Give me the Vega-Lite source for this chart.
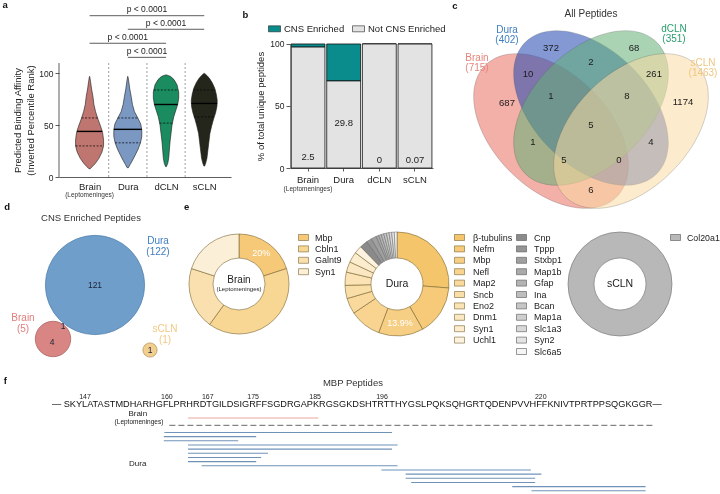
{
"$schema":"https://vega.github.io/schema/vega-lite/v6.json",
"background":"white",
"padding":0,
"spacing":-34,
"resolve":{"scale":{"color":"independent","fill":"independent","stroke":"independent","shape":"independent","size":"independent","theta":"independent"},"legend":{"color":"independent","fill":"independent"}},
"config":{
 "view":{"stroke":null},
 "font":"Liberation Sans",
 "axis":{"grid":false,"domainColor":"#333","tickColor":"#333","domainWidth":0.8,"tickWidth":0.8,"labelColor":"#222","titleColor":"#222","labelFontSize":9,"titleFontSize":9.5,"titleFontWeight":"normal","labelFont":"Liberation Sans","titleFont":"Liberation Sans"},
 "legend":{"padding":0,"labelFont":"Liberation Sans","labelColor":"#222","labelFontSize":9,"rowPadding":0.4},
 "text":{"font":"Liberation Sans","color":"#222"}
},
"datasets":{
 "brackets":[{"from":1,"to":4,"lvl":155.7,"mid":2.5,"label":"p < 0.0001"},{"from":2,"to":4,"lvl":142.6,"mid":3,"label":"p < 0.0001"},{"from":1,"to":3,"lvl":129.1,"mid":2,"label":"p < 0.0001"},{"from":2,"to":3,"lvl":115.5,"mid":2.5,"label":"p < 0.0001"}],
 "seps":[{"x":1.5},{"x":2.5},{"x":3.5}],
 "violin":[
  {"g":"Brain","v":97,"lo":0.996,"hi":1.004},{"g":"Brain","v":92,"lo":0.974,"hi":1.026},{"g":"Brain","v":85,"lo":0.948,"hi":1.052},{"g":"Brain","v":78,"lo":0.913,"hi":1.087},{"g":"Brain","v":70,"lo":0.887,"hi":1.113},{"g":"Brain","v":63,"lo":0.843,"hi":1.157},{"g":"Brain","v":56,"lo":0.782,"hi":1.218},{"g":"Brain","v":49,"lo":0.712,"hi":1.288},{"g":"Brain","v":43,"lo":0.660,"hi":1.340},{"g":"Brain","v":36,"lo":0.634,"hi":1.366},{"g":"Brain","v":30,"lo":0.634,"hi":1.366},{"g":"Brain","v":24,"lo":0.677,"hi":1.323},{"g":"Brain","v":18,"lo":0.756,"hi":1.244},{"g":"Brain","v":13,"lo":0.852,"hi":1.148},{"g":"Brain","v":10,"lo":0.930,"hi":1.070},{"g":"Brain","v":8,"lo":0.983,"hi":1.017},
  {"g":"Dura","v":97,"lo":1.996,"hi":2.004},{"g":"Dura","v":92,"lo":1.974,"hi":2.026},{"g":"Dura","v":85,"lo":1.948,"hi":2.052},{"g":"Dura","v":78,"lo":1.913,"hi":2.087},{"g":"Dura","v":70,"lo":1.878,"hi":2.122},{"g":"Dura","v":63,"lo":1.825,"hi":2.175},{"g":"Dura","v":57,"lo":1.738,"hi":2.262},{"g":"Dura","v":51,"lo":1.660,"hi":2.340},{"g":"Dura","v":45,"lo":1.634,"hi":2.366},{"g":"Dura","v":39,"lo":1.634,"hi":2.366},{"g":"Dura","v":33,"lo":1.668,"hi":2.332},{"g":"Dura","v":27,"lo":1.729,"hi":2.271},{"g":"Dura","v":21,"lo":1.808,"hi":2.192},{"g":"Dura","v":16,"lo":1.878,"hi":2.122},{"g":"Dura","v":12,"lo":1.939,"hi":2.061},{"g":"Dura","v":9,"lo":1.983,"hi":2.017},
  {"g":"dCLN","v":98.5,"lo":2.983,"hi":3.017},{"g":"dCLN","v":97,"lo":2.878,"hi":3.122},{"g":"dCLN","v":94,"lo":2.791,"hi":3.209},{"g":"dCLN","v":89,"lo":2.712,"hi":3.288},{"g":"dCLN","v":82,"lo":2.668,"hi":3.332},{"g":"dCLN","v":76,"lo":2.668,"hi":3.332},{"g":"dCLN","v":70,"lo":2.695,"hi":3.305},{"g":"dCLN","v":64,"lo":2.747,"hi":3.253},{"g":"dCLN","v":58,"lo":2.799,"hi":3.201},{"g":"dCLN","v":50,"lo":2.843,"hi":3.157},{"g":"dCLN","v":42,"lo":2.869,"hi":3.131},{"g":"dCLN","v":34,"lo":2.895,"hi":3.105},{"g":"dCLN","v":26,"lo":2.913,"hi":3.087},{"g":"dCLN","v":18,"lo":2.930,"hi":3.070},{"g":"dCLN","v":13,"lo":2.956,"hi":3.044},{"g":"dCLN","v":10,"lo":2.991,"hi":3.009},
  {"g":"sCLN","v":100,"lo":3.991,"hi":4.009},{"g":"sCLN","v":98,"lo":3.930,"hi":4.070},{"g":"sCLN","v":95,"lo":3.860,"hi":4.140},{"g":"sCLN","v":91,"lo":3.791,"hi":4.209},{"g":"sCLN","v":86,"lo":3.729,"hi":4.271},{"g":"sCLN","v":80,"lo":3.686,"hi":4.314},{"g":"sCLN","v":74,"lo":3.660,"hi":4.340},{"g":"sCLN","v":68,"lo":3.668,"hi":4.332},{"g":"sCLN","v":62,"lo":3.703,"hi":4.297},{"g":"sCLN","v":56,"lo":3.756,"hi":4.244},{"g":"sCLN","v":49,"lo":3.808,"hi":4.192},{"g":"sCLN","v":42,"lo":3.852,"hi":4.148},{"g":"sCLN","v":34,"lo":3.878,"hi":4.122},{"g":"sCLN","v":26,"lo":3.904,"hi":4.096},{"g":"sCLN","v":18,"lo":3.930,"hi":4.070},{"g":"sCLN","v":13,"lo":3.965,"hi":4.035},{"g":"sCLN","v":10.5,"lo":3.991,"hi":4.009}
 ],
 "vstats":[
  {"g":"Brain","stat":"median","v":44,"lo":0.67,"hi":1.33},{"g":"Brain","stat":"q1","v":30,"lo":0.634,"hi":1.366},{"g":"Brain","stat":"q3","v":57,"lo":0.79,"hi":1.21},
  {"g":"Dura","stat":"median","v":46,"lo":1.634,"hi":2.366},{"g":"Dura","stat":"q1","v":33,"lo":1.668,"hi":2.332},{"g":"Dura","stat":"q3","v":57,"lo":1.738,"hi":2.262},
  {"g":"dCLN","stat":"median","v":70,"lo":2.695,"hi":3.305},{"g":"dCLN","stat":"q1","v":52,"lo":2.835,"hi":3.165},{"g":"dCLN","stat":"q3","v":84,"lo":2.68,"hi":3.32},
  {"g":"sCLN","stat":"median","v":71,"lo":3.662,"hi":4.338},{"g":"sCLN","stat":"q1","v":58,"lo":3.73,"hi":4.27},{"g":"sCLN","stat":"q3","v":84,"lo":3.71,"hi":4.29}
 ],
 "bars":[
  {"g":"Brain","cat":"CNS Enriched","pct":2.5,"lab":"2.5"},{"g":"Brain","cat":"Not CNS Enriched","pct":97.5,"lab":""},
  {"g":"Dura","cat":"CNS Enriched","pct":29.8,"lab":"29.8"},{"g":"Dura","cat":"Not CNS Enriched","pct":70.2,"lab":""},
  {"g":"dCLN","cat":"CNS Enriched","pct":0,"lab":"0"},{"g":"dCLN","cat":"Not CNS Enriched","pct":100,"lab":""},
  {"g":"sCLN","cat":"CNS Enriched","pct":0.07,"lab":"0.07"},{"g":"sCLN","cat":"Not CNS Enriched","pct":99.93,"lab":""}
 ],
 "vennE":[{"set":"Brain","x":-40,"y":-23},{"set":"Dura","x":0,"y":0},{"set":"dCLN","x":0,"y":0},{"set":"sCLN","x":40,"y":-23}],
 "vcounts":[{"x":-40,"y":60,"n":"372"},{"x":43,"y":60,"n":"68"},{"x":0,"y":46,"n":"2"},{"x":-63,"y":34,"n":"10"},{"x":63,"y":34,"n":"261"},{"x":-84,"y":5,"n":"687"},{"x":-40,"y":12,"n":"1"},{"x":36,"y":12,"n":"8"},{"x":92,"y":6,"n":"1174"},{"x":0,"y":-17,"n":"5"},{"x":-58,"y":-34,"n":"1"},{"x":60,"y":-34,"n":"4"},{"x":-27,"y":-52,"n":"5"},{"x":28,"y":-52,"n":"0"},{"x":0,"y":-82,"n":"6"}],
 "vsets":[{"set":"Dura","x":-84,"y":83,"t":"Dura\n(402)"},{"set":"dCLN","x":83,"y":84,"t":"dCLN\n(351)"},{"set":"Brain","x":-114,"y":55,"t":"Brain\n(715)"},{"set":"sCLN","x":112,"y":50,"t":"sCLN\n(1463)"}],
 "cns":[{"set":"Dura","x":0,"y":0,"n":122},{"set":"Brain","x":-42,"y":-54,"n":5},{"set":"sCLN","x":55,"y":-65,"n":1}],
 "cnscounts":[{"x":0,"y":0,"lab":"121"},{"x":-32,"y":-41,"lab":"1"},{"x":-43,"y":-57,"lab":"4"},{"x":55,"y":-65,"lab":"1"}],
 "cnssets":[{"set":"Dura","x":63,"y":49,"t":"Dura\n(122)"},{"set":"Brain","x":-72,"y":-28,"t":"Brain\n(5)"},{"set":"sCLN","x":70,"y":-39,"t":"sCLN\n(1)"}],
 "donutBrain":[{"p":"Mbp","n":1,"rank":1,"lab":"20%"},{"p":"Cbln1","n":2,"rank":2,"lab":""},{"p":"Galnt9","n":1,"rank":3,"lab":""},{"p":"Syn1","n":1,"rank":4,"lab":""}],
 "donutDura":[
  {"p":"β-tubulins","n":32,"rank":1,"cls":"A","lab":""},{"p":"Nefm","n":19,"rank":2,"cls":"A","lab":""},{"p":"Mbp","n":17,"rank":3,"cls":"A","lab":"13.9%"},{"p":"Nefl","n":12,"rank":4,"cls":"A","lab":""},{"p":"Map2","n":6,"rank":5,"cls":"A","lab":""},{"p":"Sncb","n":5,"rank":6,"cls":"A","lab":""},{"p":"Eno2","n":5,"rank":7,"cls":"A","lab":""},{"p":"Dnm1","n":4,"rank":8,"cls":"A","lab":""},{"p":"Syn1","n":4,"rank":9,"cls":"A","lab":""},{"p":"Uchl1","n":3,"rank":10,"cls":"A","lab":""},
  {"p":"Cnp","n":3,"rank":11,"cls":"B","lab":""},{"p":"Tppp","n":2,"rank":12,"cls":"B","lab":""},{"p":"Stxbp1","n":2,"rank":13,"cls":"B","lab":""},{"p":"Map1b","n":1,"rank":14,"cls":"B","lab":""},{"p":"Gfap","n":1,"rank":15,"cls":"B","lab":""},{"p":"Ina","n":1,"rank":16,"cls":"B","lab":""},{"p":"Bcan","n":1,"rank":17,"cls":"B","lab":""},{"p":"Map1a","n":1,"rank":18,"cls":"B","lab":""},{"p":"Slc1a3","n":1,"rank":19,"cls":"B","lab":""},{"p":"Syn2","n":1,"rank":20,"cls":"B","lab":""},{"p":"Slc6a5","n":1,"rank":21,"cls":"B","lab":""}
 ],
 "donutScln":[{"p":"Col20a1","n":1}],
 "peps":[
  {"src":"Brain","x":167,"x2":188,"row":-2.48},
  {"src":"Dura","x":163.2,"x2":199.9,"row":1},{"src":"Dura","x":163.1,"x2":178,"row":2},{"src":"Dura","x":163.1,"x2":175.1,"row":3},{"src":"Dura","x":167,"x2":200.8,"row":4},{"src":"Dura","x":167,"x2":199.9,"row":5},{"src":"Dura","x":167,"x2":179.9,"row":6},{"src":"Dura","x":167,"x2":178.8,"row":7},{"src":"Dura","x":167,"x2":178,"row":8},{"src":"Dura","x":169.2,"x2":200.8,"row":9},{"src":"Dura","x":198.2,"x2":222.3,"row":10},{"src":"Dura","x":202.1,"x2":224,"row":11},{"src":"Dura","x":202.1,"x2":223,"row":12},{"src":"Dura","x":203,"x2":223,"row":13},{"src":"Dura","x":219.3,"x2":240.8,"row":14},{"src":"Dura","x":222.4,"x2":240.8,"row":15},{"src":"Dura","x":223.3,"x2":240.8,"row":16}
 ],
 "fdash":[{"x":164,"x2":242.2,"row":-0.72}],
 "fseq":[{"x":145.06,"row":-5.84,"t":"— SKYLATASTMDHARHGFLPRHRDTGILDSIGRFFSGDRGAPKRGSGKDSHTRTTHYGSLPQKSQHGRTQDENPVVHFFKNIVTPRTPPSQGKGGR—"}],
 "fticks":[{"x":150.4,"row":-7.52,"t":"147"},{"x":163.6,"row":-7.52,"t":"160"},{"x":170.2,"row":-7.52,"t":"167"},{"x":177.5,"row":-7.52,"t":"175"},{"x":187.5,"row":-7.52,"t":"185"},{"x":198.3,"row":-7.52,"t":"196"},{"x":223.9,"row":-7.52,"t":"220"}],
 "flabels":[{"x":158.9,"row":-3.53,"t":"Brain"},{"x":158.9,"row":8.5,"t":"Dura"}],
 "flep":[{"x":159.1,"row":-1.52,"t":"(Leptomeninges)"}],
 "ftitle":[{"x":193.6,"row":-10.88,"t":"MBP Peptides"}]
},
"vconcat":[
 {"bounds":"flush","spacing":0,
  "resolve":{"scale":{"color":"independent","fill":"independent","stroke":"independent","shape":"independent","size":"independent","theta":"independent"},"legend":{"color":"independent","fill":"independent"}},
  "hconcat":[
  {"width":53,"height":1,"data":{"values":[{}]},"mark":{"type":"point","opacity":0},"encoding":{}},
  {"width":172,"height":167,
   "layer":[
    {"data":{"name":"violin"},"mark":{"type":"area","orient":"horizontal","stroke":"#1a1a1a","strokeWidth":0.6},
     "encoding":{
      "y":{"field":"v","type":"quantitative","scale":{"domain":[0,161.2],"nice":false,"zero":false},"axis":{"values":[0,50,100],"domain":false,"title":["Predicted Binding Affinity","(Inverted Percentile Rank)"],"titleY":110,"tickSize":4,"labelFontSize":8.5,"titlePadding":3,"titleFontSize":9.5,"titleLineHeight":13}},
      "x":{"field":"lo","type":"quantitative","scale":{"domain":[0.2,4.7],"nice":false,"zero":false},"axis":{"values":[1,2,3,4],"labelExpr":"['','Brain','Dura','dCLN','sCLN'][datum.value]","ticks":false,"title":null,"labelFontSize":9.5,"labelPadding":4}},
      "x2":{"field":"hi"},
      "fill":{"field":"g","type":"nominal","scale":{"domain":["Brain","Dura","dCLN","sCLN"],"range":["#bf7670","#7b98c2","#1b8c60","#25261b"]},"legend":null}}},
    {"data":{"values":[{"x":-1.318,"x2":-1.3,"y":170.85}]},"mark":{"type":"rule","opacity":0,"strokeWidth":0.01},"encoding":{"x":{"field":"x","type":"quantitative"},"x2":{"field":"x2"},"y":{"field":"y","type":"quantitative"}}},
    {"data":{"values":[{"x":0.2,"y0":0,"y1":110}]},"mark":{"type":"rule","color":"#333","strokeWidth":0.8},"encoding":{"x":{"field":"x","type":"quantitative"},"y":{"field":"y0","type":"quantitative"},"y2":{"field":"y1"}}},
    {"data":{"name":"seps"},"mark":{"type":"rule","color":"#888","strokeWidth":0.8,"strokeDash":[2,2]},"encoding":{"x":{"field":"x","type":"quantitative"},"y":{"datum":0,"type":"quantitative"},"y2":{"datum":110}}},
    {"data":{"name":"vstats"},"transform":[{"filter":"datum.stat == 'median'"}],"mark":{"type":"rule","color":"#000","strokeWidth":1.4},"encoding":{"x":{"field":"lo","type":"quantitative"},"x2":{"field":"hi"},"y":{"field":"v","type":"quantitative"}}},
    {"data":{"name":"vstats"},"transform":[{"filter":"datum.stat != 'median'"}],"mark":{"type":"rule","color":"#000","strokeWidth":0.7,"strokeDash":[2,1.5]},"encoding":{"x":{"field":"lo","type":"quantitative"},"x2":{"field":"hi"},"y":{"field":"v","type":"quantitative"}}},
    {"data":{"values":[{"x":1,"v":-17.4,"t":"(Leptomeninges)"}]},"mark":{"type":"text","fontSize":6.5,"color":"#333"},"encoding":{"x":{"field":"x","type":"quantitative"},"y":{"field":"v","type":"quantitative"},"text":{"field":"t"}}},
    {"data":{"name":"brackets"},"mark":{"type":"rule","color":"#333","strokeWidth":0.8},"encoding":{"x":{"field":"from","type":"quantitative"},"x2":{"field":"to"},"y":{"field":"lvl","type":"quantitative"}}},
    {"data":{"name":"brackets"},"mark":{"type":"text","baseline":"bottom","dy":-1.5,"fontSize":8.5},"encoding":{"x":{"field":"mid","type":"quantitative"},"y":{"field":"lvl","type":"quantitative"},"text":{"field":"label"}}},
    {"data":{"values":[{"x":-1.279,"v":170.85,"t":"a"},{"x":5.004,"v":161.2,"t":"b"},{"x":10.488,"v":170.08,"t":"c"}]},"mark":{"type":"text","align":"left","baseline":"top","fontSize":9.5,"fontWeight":"bold","color":"#111"},"encoding":{"x":{"field":"x","type":"quantitative"},"y":{"field":"v","type":"quantitative"},"text":{"field":"t"}}}
   ]},
  {"width":59,"height":1,"data":{"values":[{}]},"mark":{"type":"point","opacity":0},"encoding":{}},
  {"width":143,"height":158,
   "layer":[
    {"data":{"name":"bars"},"mark":{"type":"bar","stroke":"#111","strokeWidth":0.8},
     "encoding":{
      "x":{"field":"g","type":"nominal","scale":{"domain":["Brain","Dura","dCLN","sCLN"],"paddingInner":0.05,"paddingOuter":0.03},"axis":{"title":null,"labelAngle":0,"tickSize":3,"labelPadding":3,"labelFontSize":9.5}},
      "y":{"field":"pct","type":"quantitative","stack":true,"scale":{"domain":[0,127.4],"nice":false},"axis":{"values":[0,25,50,75,100],"domain":false,"labelExpr":"datum.value % 50 == 0 ? datum.label : ''","title":"% of total unique peptides","titleY":96,"tickSize":4,"labelFontSize":8.5,"titlePadding":4,"titleFontSize":9.5}},
      "color":{"field":"cat","type":"nominal","scale":{"domain":["CNS Enriched","Not CNS Enriched"],"range":["#0b8c8c","#e3e3e3"]},"legend":{"orient":"none","legendX":-22,"legendY":12.3,"direction":"horizontal","title":null,"symbolType":"M-1,-0.5H1V0.5H-1Z","symbolSize":144,"symbolStrokeColor":"#222","symbolStrokeWidth":0.6,"labelFontSize":9.5,"labelOffset":3,"columnPadding":6}}}},
    {"data":{"values":[{"g":"Brain","y0":0,"y1":100}]},"mark":{"type":"rule","color":"#333","strokeWidth":0.8},"encoding":{"x":{"field":"g","type":"nominal","bandPosition":0},"y":{"field":"y0","type":"quantitative"},"y2":{"field":"y1"}}},
    {"data":{"name":"bars"},"transform":[{"filter":"datum.cat == 'CNS Enriched'"}],"mark":{"type":"text","baseline":"bottom","dy":-3,"fontSize":9.5},
     "encoding":{"x":{"field":"g","type":"nominal"},"y":{"field":"pct","type":"quantitative"},"text":{"field":"lab"}}},
    {"data":{"values":[{"g":"Brain","y":-16.9,"t":"(Leptomeninges)"}]},"mark":{"type":"text","fontSize":6.5,"color":"#333"},
     "encoding":{"x":{"field":"g","type":"nominal"},"y":{"field":"y","type":"quantitative"},"text":{"field":"t"}}}
   ]},
  {"width":59,"height":1,"data":{"values":[{}]},"mark":{"type":"point","opacity":0},"encoding":{}},
  {"width":220,"height":200,
   "encoding":{"x":{"field":"x","type":"quantitative","scale":{"domain":[-99,121],"nice":false,"zero":false},"axis":null},"y":{"field":"y","type":"quantitative","scale":{"domain":[-102,98],"nice":false,"zero":false},"axis":null}},
   "layer":[
    {"data":{"values":[{"x":0,"x2":1,"y":-122}]},"mark":{"type":"rule","opacity":0,"strokeWidth":0.01},"encoding":{"x2":{"field":"x2"}}},
    {"data":{"name":"vennE"},"mark":{"type":"point","filled":true,"size":34596,"opacity":1,"fillOpacity":0.55,"stroke":"#555","strokeWidth":0.5,"strokeOpacity":0.5},
     "encoding":{
      "shape":{"field":"set","type":"nominal","scale":{"domain":["Brain","Dura","dCLN","sCLN"],"range":["M0.707,0.707C0.465,0.949,-0.048,0.829,-0.438,0.438C-0.829,0.048,-0.949,-0.465,-0.707,-0.707C-0.465,-0.949,0.048,-0.829,0.438,-0.438C0.829,-0.048,0.949,0.465,0.707,0.707Z","M0.707,0.707C0.465,0.949,-0.048,0.829,-0.438,0.438C-0.829,0.048,-0.949,-0.465,-0.707,-0.707C-0.465,-0.949,0.048,-0.829,0.438,-0.438C0.829,-0.048,0.949,0.465,0.707,0.707Z","M-0.707,0.707C-0.465,0.949,0.048,0.829,0.438,0.438C0.829,0.048,0.949,-0.465,0.707,-0.707C0.465,-0.949,-0.048,-0.829,-0.438,-0.438C-0.829,-0.048,-0.949,0.465,-0.707,0.707Z","M-0.707,0.707C-0.465,0.949,0.048,0.829,0.438,0.438C0.829,0.048,0.949,-0.465,0.707,-0.707C0.465,-0.949,-0.048,-0.829,-0.438,-0.438C-0.829,-0.048,-0.949,0.465,-0.707,0.707Z"]},"legend":null},
      "fill":{"field":"set","type":"nominal","scale":{"domain":["Brain","Dura","dCLN","sCLN"],"range":["#e96f61","#1f45b0","#63af75","#fadba2"]},"legend":null}}},
    {"data":{"name":"vcounts"},"mark":{"type":"text","fontSize":9.5,"color":"#1a1a1a"},"encoding":{"text":{"field":"n"}}},
    {"data":{"name":"vsets"},"mark":{"type":"text","baseline":"top","lineBreak":"\n","lineHeight":10,"fontSize":10},"encoding":{"text":{"field":"t"},"color":{"field":"set","type":"nominal","scale":{"domain":["Brain","Dura","dCLN","sCLN"],"range":["#e8847c","#3f7fc1","#2a9d6e","#f0c680"]},"legend":null}}},
    {"data":{"values":[{"x":0,"y":94,"t":"All Peptides"}]},"mark":{"type":"text","fontSize":10,"color":"#333"},"encoding":{"text":{"field":"t"}}}
   ]}
 ]},
 {"bounds":"flush","spacing":0,
  "resolve":{"scale":{"color":"independent","fill":"independent","stroke":"independent","shape":"independent","size":"independent","theta":"independent"},"legend":{"color":"independent","fill":"independent"}},
  "hconcat":[
  {"width":175,"height":136,
   "encoding":{"x":{"field":"x","type":"quantitative","scale":{"domain":[-89,86],"nice":false,"zero":false},"axis":null},"y":{"field":"y","type":"quantitative","scale":{"domain":[-83,53],"nice":false,"zero":false},"axis":null}},
   "layer":[
    {"data":{"values":[{"x":-94,"x2":-93,"y":88},{"x":-94,"x2":-93,"y":-83}]},"mark":{"type":"rule","opacity":0,"strokeWidth":0.01},"encoding":{"x2":{"field":"x2"}}},
    {"data":{"name":"cns"},"mark":{"type":"point","shape":"circle","filled":true,"opacity":1,"blend":"multiply","strokeWidth":0.7},
     "encoding":{
      "size":{"field":"n","type":"quantitative","scale":{"type":"linear","domain":[1,5,122],"range":[201,1257,9852]},"legend":null},
      "fill":{"field":"set","type":"nominal","scale":{"domain":["Dura","Brain","sCLN"],"range":["#6f9ecb","#d98583","#f2cf8f"]},"legend":null},
      "stroke":{"field":"set","type":"nominal","scale":{"domain":["Dura","Brain","sCLN"],"range":["#4f7eab","#a45e5c","#b28d4c"]},"legend":null}}},
    {"data":{"name":"cnscounts"},"mark":{"type":"text","fontSize":8.5,"color":"#1a2238"},"encoding":{"text":{"field":"lab"}}},
    {"data":{"name":"cnssets"},"mark":{"type":"text","baseline":"top","lineBreak":"\n","lineHeight":11,"fontSize":10},"encoding":{"text":{"field":"t"},"color":{"field":"set","type":"nominal","scale":{"domain":["Dura","Brain","sCLN"],"range":["#3f7fc1","#e07f7c","#f2c880"]},"legend":null}}},
    {"data":{"values":[{"x":-4,"y":67,"t":"CNS Enriched Peptides"}]},"mark":{"type":"text","fontSize":9.5,"color":"#333"},"encoding":{"text":{"field":"t"}}},
    {"data":{"values":[{"x":-90.7,"y":74.7,"t":"d"},{"x":89,"y":74.7,"t":"e"}]},"mark":{"type":"text","align":"left","baseline":"alphabetic","fontSize":9.5,"fontWeight":"bold","color":"#111"},"encoding":{"text":{"field":"t"}}}
   ]},
  {"width":6,"height":1,"data":{"values":[{}]},"mark":{"type":"point","opacity":0},"encoding":{}},
  {"width":104,"height":104,
   "layer":[
    {"data":{"name":"donutBrain"},"mark":{"type":"arc","innerRadius":26,"outerRadius":50,"stroke":"#7a6633","strokeWidth":0.6},
     "encoding":{"theta":{"field":"n","type":"quantitative","stack":true},"order":{"field":"rank","type":"quantitative"},
      "color":{"field":"p","type":"nominal","scale":{"domain":["Mbp","Cbln1","Galnt9","Syn1"],"range":["#f6c978","#f8d693","#f9e0ae","#fcefd7"]},"legend":{"orient":"none","legendX":111,"legendY":0,"title":null,"symbolType":"M-1,-0.6H1V0.6H-1Z","symbolSize":100,"symbolStrokeColor":"#7a6633","symbolStrokeWidth":0.6,"labelFontSize":9,"labelOffset":6,"rowPadding":0.4}}}},
    {"data":{"name":"donutBrain"},"mark":{"type":"text","radius":38,"color":"white","fontSize":9},"encoding":{"theta":{"field":"n","type":"quantitative","stack":true},"order":{"field":"rank","type":"quantitative"},"detail":{"field":"p"},"text":{"field":"lab"}}},
    {"data":{"values":[{"t":"Brain"}]},"mark":{"type":"text","fontSize":10,"dy":-4,"color":"#222"},"encoding":{"text":{"field":"t"}}},
    {"data":{"values":[{"t":"(Leptomeninges)"}]},"mark":{"type":"text","fontSize":6,"dy":5,"color":"#222"},"encoding":{"text":{"field":"t"}}}
   ]},
  {"width":54,"height":1,"data":{"values":[{}]},"mark":{"type":"point","opacity":0},"encoding":{}},
  {"width":104,"height":104,
   "data":{"name":"donutDura"},
   "transform":[{"stack":"n","groupby":[],"sort":[{"field":"rank","order":"ascending"}],"as":["t0","t1"]}],
   "layer":[
    {"transform":[{"filter":"datum.cls == 'A'"}],"mark":{"type":"arc","innerRadius":26,"outerRadius":52,"stroke":"#7a6633","strokeWidth":0.6},
     "encoding":{"theta":{"field":"t0","type":"quantitative","scale":{"domain":[0,122]}},"theta2":{"field":"t1"},
      "color":{"field":"p","type":"nominal","scale":{"domain":["β-tubulins","Nefm","Mbp","Nefl","Map2","Sncb","Eno2","Dnm1","Syn1","Uchl1"],"range":["#f5c56c","#f6ca78","#f7cf84","#f8d490","#f9d99c","#fadea8","#fbe3b5","#fbe8c2","#fcedcf","#fdf3de"]},"legend":{"orient":"none","legendX":109,"legendY":0,"title":null,"symbolType":"M-1,-0.6H1V0.6H-1Z","symbolSize":100,"symbolStrokeColor":"#7a6633","symbolStrokeWidth":0.6,"labelFontSize":9,"labelOffset":8,"rowPadding":0.4}}}},
    {"transform":[{"filter":"datum.cls == 'B'"}],"mark":{"type":"arc","innerRadius":26,"outerRadius":52,"stroke":"#666","strokeWidth":0.5},
     "encoding":{"theta":{"field":"t0","type":"quantitative","scale":{"domain":[0,122]}},"theta2":{"field":"t1"},
      "fill":{"field":"p","type":"nominal","scale":{"domain":["Cnp","Tppp","Stxbp1","Map1b","Gfap","Ina","Bcan","Map1a","Slc1a3","Syn2","Slc6a5"],"range":["#8a8a8a","#959595","#a0a0a0","#aaaaaa","#b4b4b4","#bdbdbd","#c6c6c6","#cfcfcf","#d9d9d9","#e4e4e4","#f5f5f5"]},"legend":{"orient":"none","legendX":171,"legendY":0,"title":null,"symbolType":"M-1,-0.6H1V0.6H-1Z","symbolSize":100,"symbolStrokeColor":"#555","symbolStrokeWidth":0.6,"labelFontSize":9,"labelOffset":7,"rowPadding":0.4}}}},
    {"mark":{"type":"text","radius":39,"color":"white","fontSize":9},"encoding":{"theta":{"field":"n","type":"quantitative","stack":true,"scale":{"domain":[0,122]}},"order":{"field":"rank","type":"quantitative"},"detail":{"field":"p"},"text":{"field":"lab"}}},
    {"data":{"values":[{"t":"Dura"}]},"mark":{"type":"text","fontSize":10.5,"color":"#222"},"encoding":{"text":{"field":"t"}}}
   ]},
  {"width":119,"height":1,"data":{"values":[{}]},"mark":{"type":"point","opacity":0},"encoding":{}},
  {"width":104,"height":104,
   "layer":[
    {"data":{"name":"donutScln"},"mark":{"type":"arc","innerRadius":26,"outerRadius":52,"stroke":"#6e6e6e","strokeWidth":0.6},
     "encoding":{"theta":{"field":"n","type":"quantitative","stack":true},
      "color":{"field":"p","type":"nominal","scale":{"domain":["Col20a1"],"range":["#b8b8b8"]},"legend":{"orient":"none","legendX":102,"legendY":0,"title":null,"symbolType":"M-1,-0.6H1V0.6H-1Z","symbolSize":100,"symbolStrokeColor":"#555","symbolStrokeWidth":0.6,"labelFontSize":8.8,"labelOffset":6}}}},
    {"data":{"values":[{"t":"sCLN"}]},"mark":{"type":"text","fontSize":10.5,"color":"#222"},"encoding":{"text":{"field":"t"}}}
   ]}
 ]},
 {"width":696.6,"height":106,
  "encoding":{"x":{"field":"x","type":"quantitative","scale":{"domain":[137.65,250],"nice":false,"zero":false},"axis":null},"y":{"field":"row","type":"quantitative","scale":{"domain":[-9.2,16.25],"reverse":true,"nice":false,"zero":false},"axis":null}},
  "layer":[
   {"data":{"values":[{"x":136.84,"x2":137,"row":-22.41}]},"mark":{"type":"rule","opacity":0,"strokeWidth":0.01},"encoding":{"x2":{"field":"x2"}}},
   {"data":{"name":"fdash"},"mark":{"type":"rule","color":"#555","strokeWidth":0.9,"strokeDash":[6,3]},"encoding":{"x2":{"field":"x2"}}},
   {"data":{"name":"peps"},"mark":{"type":"rule","strokeWidth":1.1},"encoding":{"x2":{"field":"x2"},"color":{"field":"src","type":"nominal","scale":{"domain":["Brain","Dura"],"range":["#eca59e","#6f92b8"]},"legend":null}}},
   {"data":{"name":"fseq"},"mark":{"type":"text","align":"left","baseline":"middle","fontSize":9.2,"color":"#111"},"encoding":{"text":{"field":"t"}}},
   {"data":{"name":"fticks"},"mark":{"type":"text","baseline":"middle","fontSize":7,"color":"#222"},"encoding":{"text":{"field":"t"}}},
   {"data":{"name":"flabels"},"mark":{"type":"text","baseline":"middle","fontSize":8,"color":"#222"},"encoding":{"text":{"field":"t"}}},
   {"data":{"name":"flep"},"mark":{"type":"text","baseline":"middle","fontSize":6.5,"color":"#222"},"encoding":{"text":{"field":"t"}}},
   {"data":{"name":"ftitle"},"mark":{"type":"text","baseline":"middle","fontSize":9.5,"color":"#333"},"encoding":{"text":{"field":"t"}}},
   {"data":{"values":[{"x":137.28,"row":-10.71,"t":"f"}]},"mark":{"type":"text","align":"left","baseline":"alphabetic","fontSize":9.5,"fontWeight":"bold","color":"#111"},"encoding":{"text":{"field":"t"}}}
  ]}
]
}
